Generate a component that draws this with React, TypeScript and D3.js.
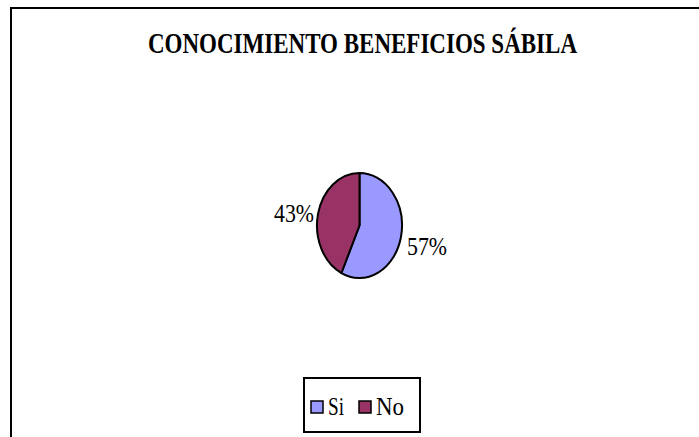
import React from "react";
import * as d3 from "d3";

const categories = ["Si", "No"];
const values = [57, 43];
const colors = ["#9999FF", "#993366"];
const title = "CONOCIMIENTO BENEFICIOS SÁBILA";

const serif = "'Liberation Serif', 'Times New Roman', Times, serif";

export default function App() {
  const W = 699, H = 437;
  const cx = 359.5, cy = 225.5, rx = 42.5, ry = 52.5;
  const pie = d3.pie<number>().sort(null).value((d) => d);
  const arcs = pie(values);
  const arc = d3.arc<d3.PieArcDatum<number>>().innerRadius(0).outerRadius(1);
  const total = d3.sum(values);

  const legendX = 304, legendY = 378, legendW = 116, legendH = 54;

  return (
    <svg width={W} height={H} style={{ position: "absolute", left: 0, top: 0, background: "#fff" }}>
      <rect x={11} y={8} width={W + 20} height={H + 20} fill="#fff" stroke="#000" strokeWidth={2} />
      <text x={362.5} y={53} textAnchor="middle" fontFamily={serif}
        fontWeight="bold" fontSize={29} textLength={429} lengthAdjust="spacingAndGlyphs">{title}</text>
      <g transform={`translate(${cx},${cy}) scale(${rx},${ry})`}>
        {arcs.map((a, i) => (
          <path key={i} d={arc(a) || ""} fill={colors[i]} stroke="#000" strokeWidth={2}
            vectorEffect="non-scaling-stroke" strokeLinejoin="round" />
        ))}
      </g>
      {arcs.map((a, i) => {
        const mid = (a.startAngle + a.endAngle) / 2;
        const ex = cx + rx * Math.sin(mid);
        const ey = cy - ry * Math.cos(mid);
        const right = Math.sin(mid) > 0;
        const label = `${Math.round((values[i] / total) * 100)}%`;
        return (
          <text key={i} x={right ? ex + 6 : ex - 4} y={right ? ey + 18 : ey + 8}
            textAnchor={right ? "start" : "end"}
            fontFamily={serif} fontSize={26}
            textLength={40} lengthAdjust="spacingAndGlyphs">{label}</text>
        );
      })}
      <rect x={legendX} y={legendY} width={legendW} height={legendH} fill="#fff" stroke="#000" strokeWidth={2} />
      {categories.map((c, i) => {
        const sx = legendX + 7 + i * 48;
        return (
          <g key={c}>
            <rect x={sx} y={legendY + 23} width={12} height={12} fill={colors[i]} stroke="#000" strokeWidth={1.5} />
            <text x={sx + 17} y={legendY + 37} fontFamily={serif}
              fontSize={26} textLength={i === 0 ? 16 : 28} lengthAdjust="spacingAndGlyphs">{c}</text>
          </g>
        );
      })}
    </svg>
  );
}
